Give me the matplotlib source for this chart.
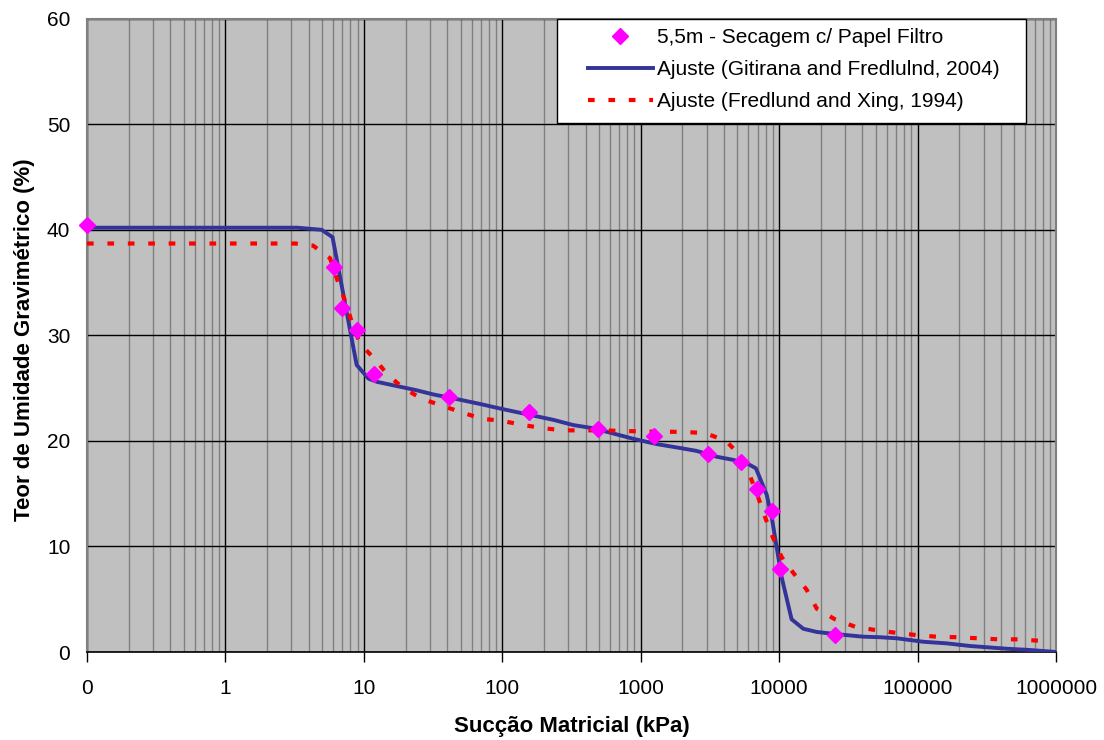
import matplotlib
matplotlib.use('Agg')
import matplotlib.pyplot as plt
from matplotlib.ticker import FixedLocator, FixedFormatter, LogLocator, NullFormatter
from matplotlib.patches import Rectangle

plt.rcParams['font.family'] = ['Liberation Sans', 'DejaVu Sans']

# measured points (papel filtro)
suc_pts = [0.1, 6.1, 6.9, 8.9, 11.8, 41, 157, 489, 1248, 3076, 5300, 6890, 8870, 10190, 25500]
w_pts = [40.5, 36.5, 32.6, 30.5, 26.3, 24.2, 22.7, 21.1, 20.5, 18.8, 18.0, 15.4, 13.4, 7.9, 1.6]

# Gitirana & Fredlund (2004) fit
suc_gf = [0.1, 3.3, 4.95, 5.94, 8.87, 10.8, 12.4, 24, 31.8, 49.5, 69, 101.6, 167, 233, 326,
          454, 634, 884, 1303, 1977, 2537, 3537, 4670, 5990, 6800, 8130, 8830, 9860, 10420,
          12300, 14950, 18680, 25500, 40500, 53500, 70600, 110000, 162000, 239000, 440000,
          648000, 1000000]
w_gf = [40.2, 40.2, 40.0, 39.3, 27.2, 25.9, 25.6, 24.8, 24.4, 23.9, 23.5, 23.0, 22.4, 22.0, 21.5,
        21.2, 20.7, 20.2, 19.7, 19.3, 19.05, 18.5, 18.2, 17.8, 17.4, 14.9, 12.8, 9.0, 7.1,
        3.1, 2.2, 1.9, 1.7, 1.45, 1.4, 1.3, 0.97, 0.82, 0.57, 0.31, 0.19, 0.0]

# Fredlund & Xing (1994) fit
suc_fx = [0.1, 3.2, 4.3, 5.7, 6.53, 7.3, 8.17, 9.38, 11.7, 14.6, 18.8, 26.1, 35.5, 51, 71, 99,
          142, 198, 276, 500, 1000, 2000, 2910, 4130, 5070, 6150, 6950, 7900, 8980, 10420,
          12650, 15800, 18700, 25300, 35300, 48400, 68700, 98600, 137000, 192000, 275000,
          384000, 535000, 746000, 800000]
w_fx = [38.7, 38.7, 38.5, 37.3, 35.0, 33.3, 31.3, 29.2, 27.9, 26.4, 25.1, 24.0, 23.4, 22.7, 22.1,
        21.9, 21.5, 21.2, 21.0, 21.0, 20.9, 20.85, 20.75, 20.0, 18.8, 16.7, 14.9, 12.8, 10.9,
        9.0, 7.5, 5.9, 4.1, 3.1, 2.4, 2.1, 1.83, 1.6, 1.45, 1.4, 1.3, 1.2, 1.2, 1.07, 0.9]

x_ticks = [0.1, 1, 10, 100, 1000, 10000, 100000, 1000000]
x_labels = ['0', '1', '10', '100', '1000', '10000', '100000', '1000000']

fig = plt.figure(figsize=(11.04, 7.4), dpi=100)
ax = fig.add_axes([87 / 1104, 1 - 652 / 740, 969 / 1104, 633.3 / 740])
ax.set_facecolor('#C0C0C0')

ax.set_xscale('log')
ax.set_xlim(0.1, 1e6)
ax.set_ylim(0, 60)

ax.xaxis.set_major_locator(FixedLocator(x_ticks))
ax.xaxis.set_major_formatter(FixedFormatter(x_labels))
ax.xaxis.set_minor_locator(LogLocator(base=10, subs=range(2, 10), numticks=100))
ax.xaxis.set_minor_formatter(NullFormatter())
ax.set_yticks(range(0, 61, 10))

ax.grid(True, which='minor', axis='x', color='#808080', lw=1)
ax.grid(True, which='major', axis='x', color='black', lw=1)
ax.grid(True, which='major', axis='y', color='black', lw=1)
ax.set_axisbelow(True)

ax.tick_params(axis='x', which='major', length=7, width=1, color='black',
               pad=12.5, labelsize=15)
ax.tick_params(axis='x', which='minor', length=0)
ax.tick_params(axis='y', length=0, pad=12, labelsize=15)

for side in ['left', 'top', 'right']:
    ax.spines[side].set_color('#808080')
    ax.spines[side].set_linewidth(1.5)
ax.spines['bottom'].set_color('black')
ax.spines['bottom'].set_linewidth(1.2)

ax.plot(suc_gf, w_gf, color='#333399', lw=2.8, zorder=3,
        label='Ajuste (Gitirana and Fredlulnd, 2004)')
ax.plot(suc_fx, w_fx, color='#FF0000', lw=3, linestyle=(0, (1.6, 3.3)), zorder=4,
        label='Ajuste (Fredlund and Xing, 1994)')
ax.plot(suc_pts, w_pts, linestyle='none', marker='D', ms=8, color='#FF00FF',
        mec='#FF00FF', zorder=5, clip_on=False, label='5,5m - Secagem c/ Papel Filtro')

handles, labels = ax.get_legend_handles_labels()
order = [2, 0, 1]
fig.patches.append(Rectangle((557 / 1104, 1 - 123 / 740), 469 / 1104, 104 / 740,
                             transform=fig.transFigure, facecolor='white',
                             edgecolor='black', lw=1, zorder=10))
leg = fig.legend([handles[i] for i in order], [labels[i] for i in order],
                 loc='upper left', bbox_to_anchor=(588 / 1104, 1 - 28 / 740),
                 frameon=False, fontsize=15, borderpad=0, borderaxespad=0,
                 handlelength=3.1, handletextpad=0.2, labelspacing=0.62)
leg.set_zorder(11)

ax.set_xlabel('Sucção Matricial (kPa)', fontsize=16, fontweight='bold')
ax.set_ylabel('Teor de Umidade Gravimétrico (%)', fontsize=16, fontweight='bold')
ax.xaxis.label.set_va('center')
ax.xaxis.set_label_coords(0.5, -0.117)
ax.yaxis.set_label_coords(-0.054, 0.493)

fig.savefig('out.png', dpi=100)
